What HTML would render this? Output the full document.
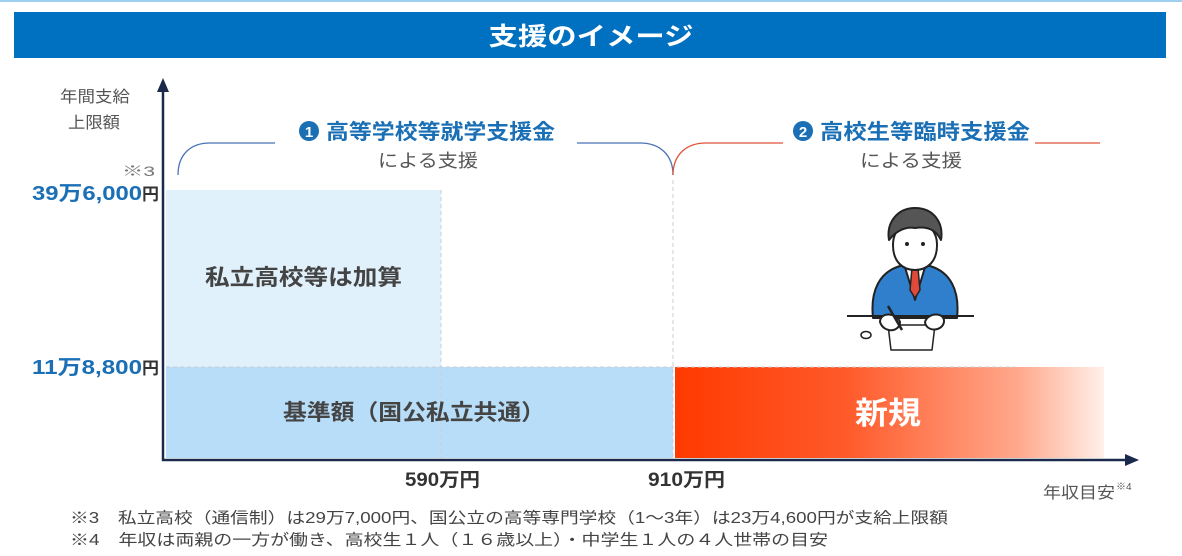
<!DOCTYPE html>
<html><head><meta charset="utf-8"><style>
html,body{margin:0;padding:0;background:#fff;}
svg{display:block;font-family:"Liberation Sans","Noto Sans CJK JP",sans-serif;}
</style></head><body>
<svg width="1182" height="556" viewBox="0 0 1182 556" xmlns="http://www.w3.org/2000/svg">
<defs>
<linearGradient id="rg" x1="0" x2="1" y1="0" y2="0">
<stop offset="0" stop-color="#ff3a00"/><stop offset="0.4" stop-color="#ff5a2a"/><stop offset="0.8" stop-color="#ffa88c"/><stop offset="1" stop-color="#fff0ea"/>
</linearGradient>
</defs>
<rect x="0" y="0" width="1182" height="2" fill="#9fd0f0"/>
<rect x="14" y="12" width="1152" height="46" fill="#0070c0"/>
<text x="591" y="45" fill="#fff" font-size="25" font-weight="bold" text-anchor="middle" textLength="205" lengthAdjust="spacingAndGlyphs">支援のイメージ</text>

<!-- areas -->
<rect x="166" y="190" width="275" height="177" fill="#e1f1fc"/>
<rect x="166" y="367" width="507" height="91" fill="#b8ddf8"/>
<rect x="675" y="367" width="429" height="91" fill="url(#rg)"/>
<g stroke="#c8ced6" stroke-width="1" stroke-dasharray="4,3" fill="none">
<line x1="441" y1="190" x2="441" y2="458"/>
<line x1="673" y1="180" x2="673" y2="458"/>
<line x1="166" y1="367" x2="1015" y2="367"/>
</g>

<!-- axes -->
<line x1="163" y1="88" x2="163" y2="461" stroke="#1b2a4a" stroke-width="2.5"/>
<polygon points="163,78 157,92 169,92" fill="#1b2a4a"/>
<line x1="162" y1="460" x2="1128" y2="460" stroke="#1b2a4a" stroke-width="2.5"/>
<polygon points="1139,460 1125,454 1125,466" fill="#1b2a4a"/>

<!-- left labels -->
<text x="60" y="102" font-size="16" fill="#555" textLength="70" lengthAdjust="spacingAndGlyphs">年間支給</text>
<text x="68" y="128" font-size="16" fill="#555" textLength="52" lengthAdjust="spacingAndGlyphs">上限額</text>
<text x="122" y="176" font-size="14" fill="#777" textLength="33" lengthAdjust="spacingAndGlyphs">※3</text>
<text x="32" y="200" font-size="20" font-weight="bold" fill="#1a6fb5" textLength="110" lengthAdjust="spacingAndGlyphs">39万6,000</text>
<text x="142" y="200" font-size="17" font-weight="bold" fill="#333" textLength="17" lengthAdjust="spacingAndGlyphs">円</text>
<text x="32" y="374" font-size="20" font-weight="bold" fill="#1a6fb5" textLength="110" lengthAdjust="spacingAndGlyphs">11万8,800</text>
<text x="142" y="374" font-size="17" font-weight="bold" fill="#333" textLength="17" lengthAdjust="spacingAndGlyphs">円</text>

<!-- area labels -->
<text x="205" y="285" font-size="22" font-weight="bold" fill="#444" textLength="197" lengthAdjust="spacingAndGlyphs">私立高校等は加算</text>
<text x="283" y="420" font-size="22" font-weight="bold" fill="#444" textLength="262" lengthAdjust="spacingAndGlyphs">基準額（国公私立共通）</text>
<text x="855" y="424" font-size="31" font-weight="bold" fill="#fff" textLength="66" lengthAdjust="spacingAndGlyphs">新規</text>

<!-- x labels -->
<text x="405" y="486" font-size="19" font-weight="bold" fill="#333" textLength="75" lengthAdjust="spacingAndGlyphs">590万円</text>
<text x="648" y="486" font-size="19" font-weight="bold" fill="#333" textLength="77" lengthAdjust="spacingAndGlyphs">910万円</text>
<text x="1043" y="498" font-size="16" fill="#555" textLength="72" lengthAdjust="spacingAndGlyphs">年収目安</text>
<text x="1116" y="490" font-size="10" fill="#555">※4</text>

<!-- brackets -->
<path d="M178,175 C178,155 190,143 210,143 L275,143" stroke="#4a72b8" stroke-width="1.3" fill="none"/>
<path d="M577,143 L640,143 C660,143 673,155 673,175" stroke="#4a72b8" stroke-width="1.3" fill="none"/>
<path d="M673,175 C673,155 686,143 706,143 L783,143" stroke="#e0553a" stroke-width="1.3" fill="none"/>
<path d="M1035,143 L1100,143" stroke="#e0553a" stroke-width="1.3" fill="none"/>
<circle cx="309" cy="131" r="10" fill="#1a6fb5"/><text x="309" y="137" font-size="15" font-weight="bold" fill="#fff" text-anchor="middle">1</text>
<text x="326" y="139" font-size="21" font-weight="bold" fill="#1a6fb5" textLength="229" lengthAdjust="spacingAndGlyphs">高等学校等就学支援金</text>
<text x="378" y="167" font-size="18" fill="#555" textLength="100" lengthAdjust="spacingAndGlyphs">による支援</text>
<circle cx="803" cy="131" r="10" fill="#1a6fb5"/><text x="803" y="137" font-size="15" font-weight="bold" fill="#fff" text-anchor="middle">2</text>
<text x="820" y="139" font-size="21" font-weight="bold" fill="#1a6fb5" textLength="210" lengthAdjust="spacingAndGlyphs">高校生等臨時支援金</text>
<text x="860" y="167" font-size="18" fill="#555" textLength="102" lengthAdjust="spacingAndGlyphs">による支援</text>

<!-- person -->
<g stroke="#222" stroke-width="2" stroke-linejoin="round">
<path d="M873,318 C870,290 880,272 900,266 L930,266 C950,272 960,290 957,318 Z" fill="#2f7fcc"/>
<path d="M904,264 L915,300 L926,264 Z" fill="#fff"/>
<path d="M912,268 L918,268 L920,290 L915,298 L910,290 Z" fill="#e04a3a" stroke-width="1.5"/>
<path d="M893,245 C893,262 903,270 915,270 C927,270 937,262 937,245 C937,230 927,222 915,222 C903,222 893,230 893,245 Z" fill="#fff"/>
<path d="M889,240 C886,222 898,208 915,208 C933,208 944,222 941,240 C936,230 928,226 915,228 C905,226 895,232 889,240 Z" fill="#555"/>
<line x1="847" y1="316" x2="974" y2="316"/>
<path d="M888,325 L935,325 L932,350 L891,350 Z" fill="#fff" stroke-width="1.5"/>
<path d="M880,322 C880,312 896,312 900,322 C900,332 884,334 880,322 Z" fill="#fff"/>
<path d="M925,322 C928,312 945,312 944,322 C942,332 926,332 925,322 Z" fill="#fff"/>
<line x1="888" y1="306" x2="902" y2="330" stroke-width="2.5"/>
<ellipse cx="866" cy="335" rx="5" ry="3.5" fill="#fff" stroke-width="1.5"/>
</g>
<circle cx="907" cy="244" r="2" fill="#222"/><circle cx="923" cy="244" r="2" fill="#222"/>

<!-- footnotes -->
<text x="70" y="523" font-size="15.5" fill="#444" textLength="878" lengthAdjust="spacingAndGlyphs">※3　私立高校（通信制）は29万7,000円、国公立の高等専門学校（1〜3年）は23万4,600円が支給上限額</text>
<text x="70" y="545" font-size="15.5" fill="#444" textLength="758" lengthAdjust="spacingAndGlyphs">※4　年収は両親の一方が働き、高校生１人（１６歳以上）・中学生１人の４人世帯の目安</text>
</svg>
</body></html>
